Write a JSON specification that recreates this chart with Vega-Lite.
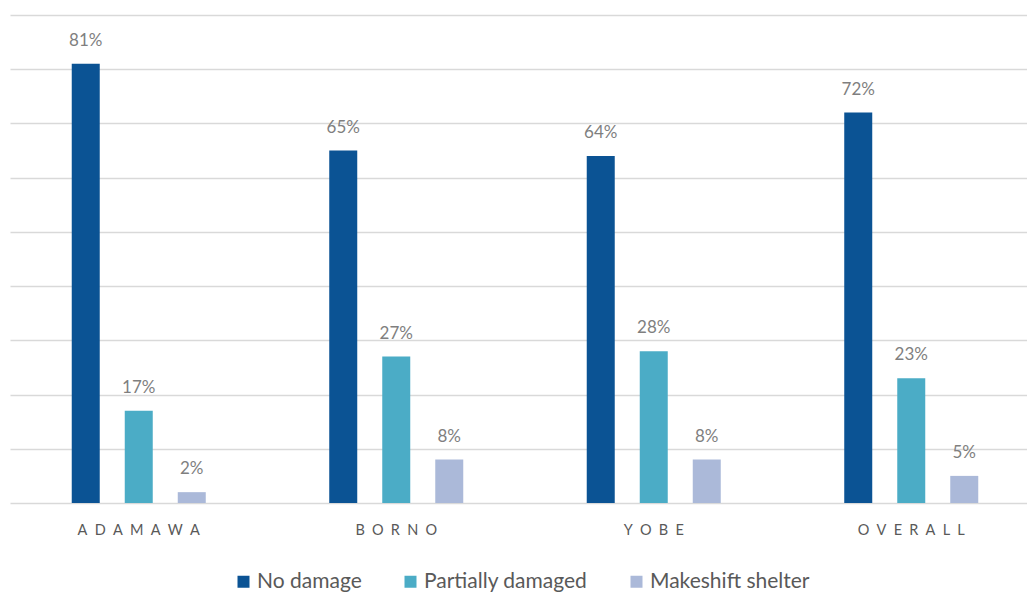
{
  "$schema": "https://vega.github.io/schema/vega-lite/v6.json",
  "autosize": {"type": "none"},
  "width": 1030,
  "height": 488,
  "padding": {"left": 10, "top": 15, "right": 0, "bottom": 89},
  "background": "white",
  "config": {"view": {"stroke": null}, "font": "Lato"},
  "data": {
    "values": [
      {"region": "ADAMAWA", "type": "No damage", "value": 81},
      {"region": "ADAMAWA", "type": "Partially damaged", "value": 17},
      {"region": "ADAMAWA", "type": "Makeshift shelter", "value": 2},
      {"region": "BORNO", "type": "No damage", "value": 65},
      {"region": "BORNO", "type": "Partially damaged", "value": 27},
      {"region": "BORNO", "type": "Makeshift shelter", "value": 8},
      {"region": "YOBE", "type": "No damage", "value": 64},
      {"region": "YOBE", "type": "Partially damaged", "value": 28},
      {"region": "YOBE", "type": "Makeshift shelter", "value": 8},
      {"region": "OVERALL", "type": "No damage", "value": 72},
      {"region": "OVERALL", "type": "Partially damaged", "value": 23},
      {"region": "OVERALL", "type": "Makeshift shelter", "value": 5}
    ]
  },
  "encoding": {
    "x": {
      "field": "region", "type": "nominal", "sort": ["ADAMAWA", "BORNO", "YOBE", "OVERALL"],
      "scale": {"paddingInner": 0, "paddingOuter": 0},
      "axis": {"title": null, "domain": false, "ticks": false, "labelAngle": 0, "labelPadding": 20,
        "labelFontSize": 14.5, "labelColor": "#595959", "labelFont": "Lato",
        "labelExpr": "join(split(datum.label, ''), '\u2002')"}
    },
    "xOffset": {
      "field": "type", "type": "nominal", "sort": ["No damage", "Partially damaged", "Makeshift shelter"],
      "scale": {"paddingInner": 0, "paddingOuter": 0.929}
    },
    "y": {
      "field": "value", "type": "quantitative",
      "scale": {"domain": [0, 90], "nice": false},
      "axis": {"title": null, "labels": false, "ticks": false, "domain": false,
        "values": [0, 10, 20, 30, 40, 50, 60, 70, 80, 90], "gridColor": "#d9d9d9", "gridWidth": 1.3}
    }
  },
  "layer": [
    {
      "mark": {"type": "bar", "width": 28},
      "encoding": {
        "color": {
          "field": "type", "type": "nominal",
          "sort": ["No damage", "Partially damaged", "Makeshift shelter"],
          "scale": {"domain": ["No damage", "Partially damaged", "Makeshift shelter"], "range": ["#0b5394", "#4bacc6", "#abb9d9"]},
          "legend": {
            "title": null, "orient": "none", "legendX": 223, "legendY": 556, "direction": "horizontal",
            "symbolType": "square", "symbolSize": 144, "symbolStrokeWidth": 0, "symbolOpacity": 1,
            "labelFontSize": 21, "labelColor": "#595959", "labelFont": "Lato", "labelOffset": 3,
            "columnPadding": 38, "labelLimit": 400
          }
        }
      }
    },
    {
      "transform": [{"calculate": "datum.value + '%'", "as": "label"}],
      "mark": {"type": "text", "baseline": "alphabetic", "dy": -18, "fontSize": 17, "color": "#7f7f7f", "font": "Lato"},
      "encoding": {
        "text": {"field": "label", "type": "nominal"},
        "detail": {"field": "type"}
      }
    }
  ]
}
